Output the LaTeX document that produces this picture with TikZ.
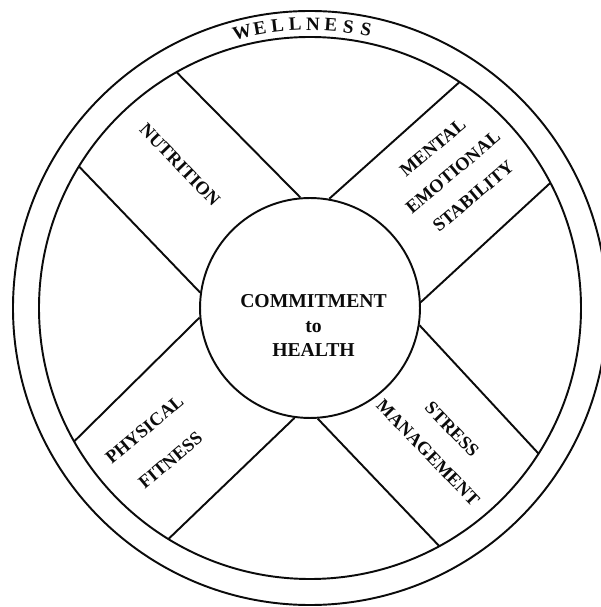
\documentclass[tikz,border=0pt]{standalone}
\usepackage{fontspec}
\setmainfont{Liberation Serif}
\usetikzlibrary{positioning}
\definecolor{ink}{HTML}{0B0B0B}
\tikzset{
  rim/.style={draw=ink, line width=1.1pt},
  spoke/.style={draw=ink, line width=1.1pt},
  hub/.style={circle, draw=ink, line width=1.1pt, minimum size=4.4cm, inner sep=0pt},
  caption/.style={align=center, text=ink, inner sep=0pt,
                  font=\fontsize{10.5}{18}\selectfont\bfseries},
  rimletter/.style={text=ink, inner sep=0pt, font=\fontsize{10.8}{11}\selectfont\bfseries}
}
\begin{document}
\begin{tikzpicture}[x=0.02cm,y=0.02cm]
  \useasboundingbox (-310,-299) rectangle (290,308);
  \draw[rim] (0,0) circle[radius=297];
  \draw[rim] (0,0) circle[radius=271];
  \node[hub] (hub) at (0,0) {};

  \foreach \a in {134,42,313,224} {
    \pgfmathsetmacro\lo{\a-38.2}
    \pgfmathsetmacro\hi{\a+38.2}
    \draw[spoke] (hub.\hi) -- ({\a+14.5}:271);
    \draw[spoke] (hub.\lo) -- ({\a-14.5}:271);
  }

  \foreach \c [count=\i] in {W,E,L,L,N,E,S,S}
    {\node[rimletter, rotate={1.2+(4.5-\i)*3.6}] (well\i) at ({91.2+(4.5-\i)*3.6}:284) {\c};}

  \node[caption, font=\fontsize{11.2}{13.9}\selectfont\bfseries] (core) at (3.5,-17.5)
    {COMMITMENT\\to\\HEALTH};
  \node[caption, rotate=-46] (nutrition) at (-130,143) {NUTRITION};
  \node[caption, rotate=40] (mental) at (143,136) {MENTAL\\EMOTIONAL\\STABILITY};
  \node[caption, rotate=40, font=\fontsize{10.5}{23}\selectfont\bfseries] (physical) at (-152.5,-137)
    {PHYSICAL\\FITNESS};
  \node[caption, rotate=-46, font=\fontsize{10.5}{19}\selectfont\bfseries] (stress) at (130,-133)
    {STRESS\\MANAGEMENT};
\end{tikzpicture}
\end{document}
